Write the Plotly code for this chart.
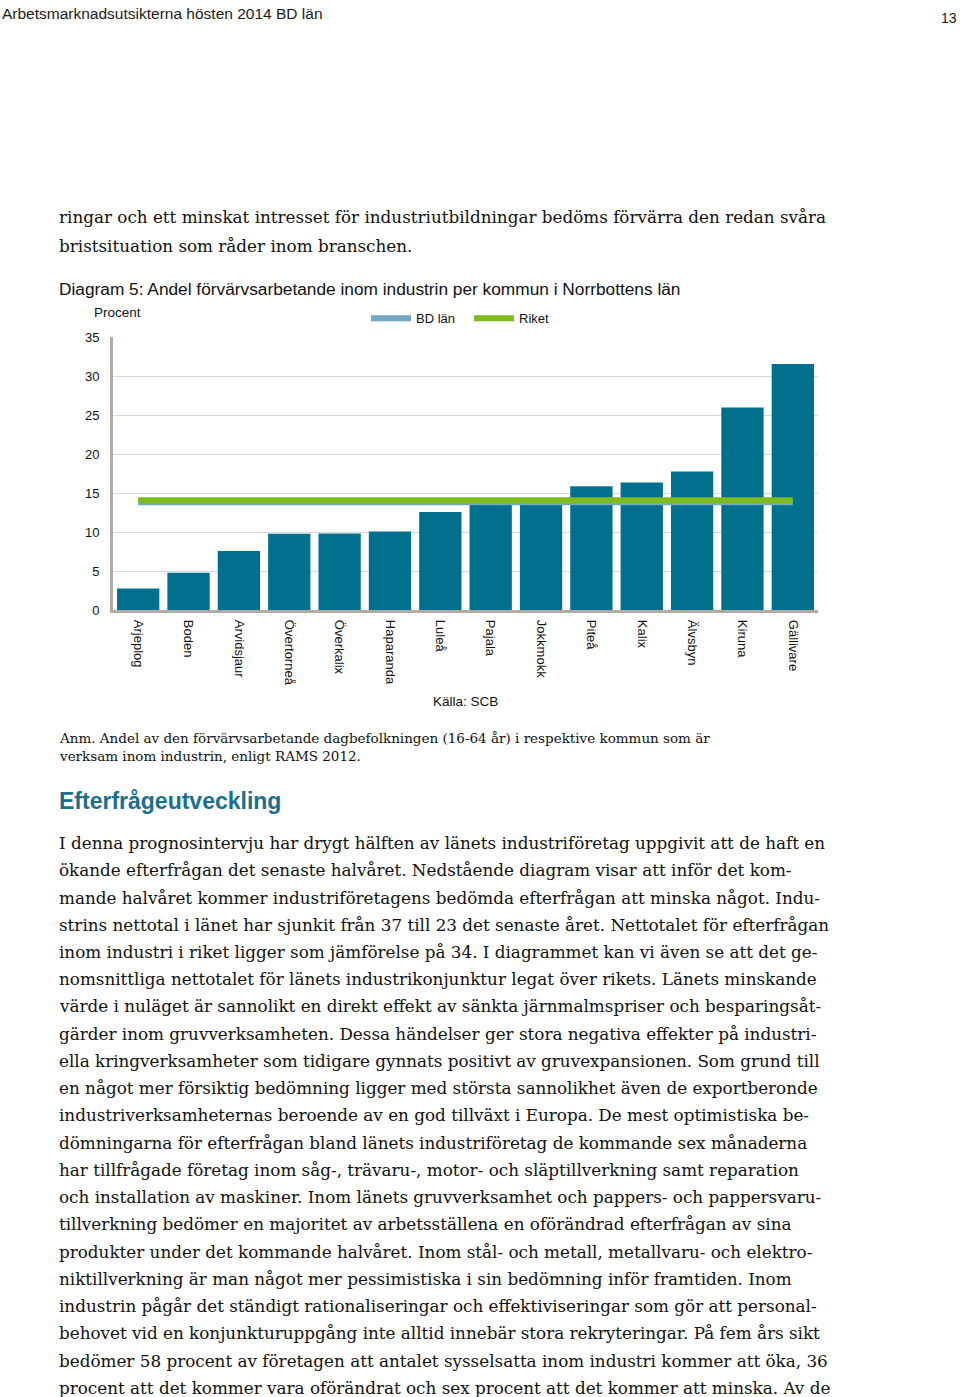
import plotly.graph_objects as go

# ---------------- data ----------------
kommuner = ["Arjeplog", "Boden", "Arvidsjaur", "Övertorneå", "Överkalix", "Haparanda",
            "Luleå", "Pajala", "Jokkmokk", "Piteå", "Kalix", "Älvsbyn", "Kiruna", "Gällivare"]
andel = [2.8, 4.8, 7.6, 9.8, 9.85, 10.1, 12.6, 13.6, 13.6, 15.9, 16.4, 17.8, 26.0, 31.6]
bd_lan = [13.85] * len(kommuner)
riket = [14.1] * len(kommuner)
y_ticks = [0, 5, 10, 15, 20, 25, 30, 35]

header_left = "Arbetsmarknadsutsikterna hösten 2014 BD län"
page_no = "13"
intro_lines = [
    "ringar och ett minskat intresset för industriutbildningar bedöms förvärra den redan svåra",
    "bristsituation som råder inom branschen.",
]
chart_title = "Diagram 5: Andel förvärvsarbetande inom industrin per kommun i Norrbottens län"
source = "Källa: SCB"
anm_lines = [
    "Anm. Andel av den förvärvsarbetande dagbefolkningen (16-64 år) i respektive kommun som är",
    "verksam inom industrin, enligt RAMS 2012.",
]
heading = "Efterfrågeutveckling"
body_lines = [
    "I denna prognosintervju har drygt hälften av länets industriföretag uppgivit att de haft en",
    "ökande efterfrågan det senaste halvåret. Nedstående diagram visar att inför det kom-",
    "mande halvåret kommer industriföretagens bedömda efterfrågan att minska något. Indu-",
    "strins nettotal i länet har sjunkit från 37 till 23 det senaste året. Nettotalet för efterfrågan",
    "inom industri i riket ligger som jämförelse på 34. I diagrammet kan vi även se att det ge-",
    "nomsnittliga nettotalet för länets industrikonjunktur legat över rikets. Länets minskande",
    "värde i nuläget är sannolikt en direkt effekt av sänkta järnmalmspriser och besparingsåt-",
    "gärder inom gruvverksamheten. Dessa händelser ger stora negativa effekter på industri-",
    "ella kringverksamheter som tidigare gynnats positivt av gruvexpansionen. Som grund till",
    "en något mer försiktig bedömning ligger med största sannolikhet även de exportberonde",
    "industriverksamheternas beroende av en god tillväxt i Europa. De mest optimistiska be-",
    "dömningarna för efterfrågan bland länets industriföretag de kommande sex månaderna",
    "har tillfrågade företag inom såg-, trävaru-, motor- och släptillverkning samt reparation",
    "och installation av maskiner. Inom länets gruvverksamhet och pappers- och pappersvaru-",
    "tillverkning bedömer en majoritet av arbetsställena en oförändrad efterfrågan av sina",
    "produkter under det kommande halvåret. Inom stål- och metall, metallvaru- och elektro-",
    "niktillverkning är man något mer pessimistiska i sin bedömning inför framtiden. Inom",
    "industrin pågår det ständigt rationaliseringar och effektiviseringar som gör att personal-",
    "behovet vid en konjunkturuppgång inte alltid innebär stora rekryteringar. På fem års sikt",
    "bedömer 58 procent av företagen att antalet sysselsatta inom industri kommer att öka, 36",
    "procent att det kommer vara oförändrat och sex procent att det kommer att minska. Av de",
]

W, H = 960, 1397
def px(x):
    return x / W
def py(y):
    # layout helper: page pixel (with small vertical calibration) -> paper fraction
    y = (y - 7.0) / 0.988
    return 1 - y / H

SANS = "Liberation Sans, Arial, sans-serif"
SERIF = "DejaVu Serif, Georgia, serif"
BAR = "#00708f"

fig = go.Figure()
fig.add_trace(go.Bar(x=kommuner, y=andel, marker=dict(color=BAR, line=dict(width=0)),
                     width=0.84, showlegend=False, hoverinfo="x+y"))
fig.add_trace(go.Scatter(x=kommuner, y=bd_lan, mode="lines", name="BD län", legend="legend",
                         line=dict(color="#6fa8c2", width=6)))
fig.add_trace(go.Scatter(x=kommuner, y=riket, mode="lines", name="Riket", legend="legend2",
                         line=dict(color="#7dbb1e", width=6)))

leg_common = dict(orientation="h", xanchor="left", yanchor="middle",
                  font=dict(family=SANS, size=13, color="#111111"), itemwidth=40,
                  bgcolor="rgba(0,0,0,0)")

fig.update_layout(
    width=W, height=H,
    margin=dict(l=0, r=0, t=0, b=0),
    paper_bgcolor="white", plot_bgcolor="white",
    font=dict(family=SANS, color="#111111", size=13),
    showlegend=True,
    legend=dict(x=px(366), y=py(318), **leg_common),
    legend2=dict(x=px(469), y=py(318), **leg_common),
    xaxis=dict(domain=[px(113), px(818)], type="category", showgrid=False,
               showline=True, linecolor="#b3aca4", linewidth=3, ticks="",
               tickangle=90, tickfont=dict(family=SANS, size=13, color="#111111"),
               ticklabelstandoff=4, fixedrange=True),
    yaxis=dict(domain=[py(609.5), py(337)], range=[0, 35], tickvals=y_ticks,
               showgrid=True, gridcolor="#d9d9d9", gridwidth=1, zeroline=False,
               showline=True, linecolor="#b3aca4", linewidth=3, ticks="",
               tickfont=dict(family=SANS, size=13, color="#111111"),
               ticklabelstandoff=8, fixedrange=True),
    bargap=0.16,
)

ann = []
def text(x, y, s, size, family=SANS, color="#111111", xanchor="left", bold=False,
         yanchor="middle", yfrac=None, borderpad=1):
    if bold:
        s = "<b>" + s + "</b>"
    ann.append(dict(x=px(x), y=(yfrac if yfrac is not None else py(y)), xref="paper", yref="paper",
                    text=s, showarrow=False, xanchor=xanchor, yanchor=yanchor, align="left",
                    borderpad=borderpad, font=dict(family=family, size=size, color=color)))

text(1, 0, header_left, 15.5, color="#1a1a1a", yanchor="top", yfrac=1 + 3 / H, borderpad=0)
text(959, 18, page_no, 14, xanchor="right", color="#1a1a1a")
for i, s in enumerate(intro_lines):
    text(57, 217 + i * 29, s, 16.8, family=SERIF)
text(57, 289, chart_title, 17.3)
text(92, 312, "Procent", 13.5)
text(465, 701, source, 13.5, xanchor="center")
for i, s in enumerate(anm_lines):
    text(57, 737 + i * 18, s, 13.5, family=SERIF)
text(57, 800, heading, 23, color="#1a6f8e", bold=True)
for i, s in enumerate(body_lines):
    text(57, 842 + i * 27.2, s, 16.8, family=SERIF)

fig.update_layout(annotations=ann)
fig.write_html("out.html", config={"displayModeBar": False},
               post_script="document.body.style.margin='0';document.body.style.overflow='hidden';")
